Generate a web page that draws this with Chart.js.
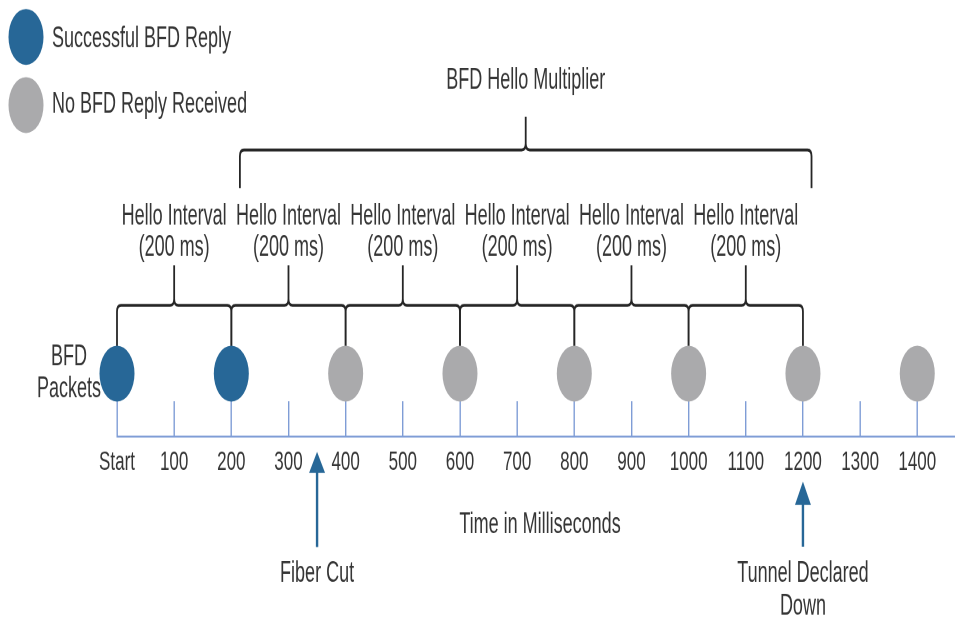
<!DOCTYPE html>
<html>
<head>
<meta charset="utf-8">
<style>
  html, body { margin: 0; padding: 0; background: #ffffff; overflow: hidden; }
</style>
</head>
<body>
<!-- the original figure is stretched vertically: drawn at 955x386, shown at 955x617 -->
<canvas id="bfdChart" width="955" height="386" style="display:block;width:955px;height:617px"></canvas>

<script src="https://cdn.jsdelivr.net/npm/chart.js@4.4.1/dist/chart.umd.min.js"></script>
<script>
// packets on the time line (ms)
const successfulReplies = [0, 200];
const missedReplies = [400, 600, 800, 1000, 1200, 1400];
const seriesNames = ['Successful BFD Reply', 'No BFD Reply Received'];

// axis
const tickValues = [0, 100, 200, 300, 400, 500, 600, 700, 800, 900, 1000, 1100, 1200, 1300, 1400];
const tickLabels = ['Start', '100', '200', '300', '400', '500', '600', '700', '800', '900', '1000', '1100', '1200', '1300', '1400'];
const axisEnd = 1466;
const axisTitle = 'Time in Milliseconds';

// hello intervals and multiplier
const intervalStarts = [0, 200, 400, 600, 800, 1000];
const intervalLength = 200;
const intervalLabel = ['Hello Interval', '(200 ms)'];
const multiplierSpan = [215, 1215];
const multiplierLabel = 'BFD Hello Multiplier';

// events marked with arrows
const eventTimes = [350, 1200];
const eventLabels = [['Fiber Cut'], ['Tunnel Declared', 'Down']];

const blue = '#276797';
const grey = '#aaaaac';
const axisBlue = '#7f9dd6';
const textCol = '#353535';
const font = 'Liberation Sans, Arial, sans-serif';

// y positions in y-scale units (the scale is 1 unit per px)
const lay = {
  packetY: 39.3,
  brace: { end: 56, bar: 82, peak: 107, r: 4 },
  bigBrace: { end: 155.4, bar: 179.2, peak: 200, r: 4 },
  helloY: [137.6, 118],
  multY: 222.4,
  sideX: -84, sideY: [49.7, 29.6],
  titleY: -55.6,
  arrow: [{ tip: -9.6, base: -22.9, tail: -69.2 }, { tip: -28.3, base: -42.9, tail: -69 }],
  eventTextY: [-86, -106.4],
  legendX: -159.2, legendTextX: -113.7,
  legendY: [249.9, 207.3], legendTextY: [248.6, 207.4]
};

function txt(ctx, s, x, y, size, align) {
  ctx.font = size + 'px ' + font;
  ctx.fillStyle = textCol;
  ctx.textAlign = align || 'center';
  ctx.textBaseline = 'middle';
  ctx.fillText(s, x, y);
}

function brace(ctx, xa, xb, yEnd, yBar, yPeak, r) {
  const xm = (xa + xb) / 2;
  ctx.beginPath();
  ctx.moveTo(xa, yEnd);
  ctx.lineTo(xa, yBar + r);
  ctx.quadraticCurveTo(xa, yBar, xa + r, yBar);
  ctx.lineTo(xm - r, yBar);
  ctx.quadraticCurveTo(xm, yBar, xm, yBar - r);
  ctx.lineTo(xm, yPeak);
  ctx.moveTo(xb, yEnd);
  ctx.lineTo(xb, yBar + r);
  ctx.quadraticCurveTo(xb, yBar, xb - r, yBar);
  ctx.lineTo(xm + r, yBar);
  ctx.quadraticCurveTo(xm, yBar, xm, yBar - r);
  ctx.stroke();
}

const diagram = {
  id: 'diagram',
  beforeDatasetsDraw(chart) {
    const ctx = chart.ctx;
    const x = chart.scales.x, y = chart.scales.y;
    ctx.save();
    ctx.strokeStyle = '#262626';
    ctx.lineWidth = 1.8;
    ctx.lineJoin = 'round';
    // one brace per hello interval
    intervalStarts.forEach(s => {
      const b = lay.brace;
      brace(ctx, x.getPixelForValue(s), x.getPixelForValue(s + intervalLength),
        y.getPixelForValue(b.end), y.getPixelForValue(b.bar), y.getPixelForValue(b.peak), b.r);
      const xm = x.getPixelForValue(s + intervalLength / 2);
      txt(ctx, intervalLabel[0], xm, y.getPixelForValue(lay.helloY[0]), 18);
      txt(ctx, intervalLabel[1], xm, y.getPixelForValue(lay.helloY[1]), 18);
    });
    // multiplier brace
    const bb = lay.bigBrace;
    brace(ctx, x.getPixelForValue(multiplierSpan[0]), x.getPixelForValue(multiplierSpan[1]),
      y.getPixelForValue(bb.end), y.getPixelForValue(bb.bar), y.getPixelForValue(bb.peak), bb.r);
    txt(ctx, multiplierLabel, x.getPixelForValue((multiplierSpan[0] + multiplierSpan[1]) / 2), y.getPixelForValue(lay.multY), 18);

    // side label
    txt(ctx, 'BFD', x.getPixelForValue(lay.sideX), y.getPixelForValue(lay.sideY[0]), 18);
    txt(ctx, 'Packets', x.getPixelForValue(lay.sideX), y.getPixelForValue(lay.sideY[1]), 18);

    // axis title
    txt(ctx, axisTitle, x.getPixelForValue(740), y.getPixelForValue(lay.titleY), 18);

    // event arrows
    eventTimes.forEach((t, i) => {
      const a = lay.arrow[i];
      const px = x.getPixelForValue(t);
      ctx.strokeStyle = blue;
      ctx.fillStyle = blue;
      ctx.lineWidth = 2.4;
      ctx.beginPath();
      ctx.moveTo(px, y.getPixelForValue(a.base) - 1);
      ctx.lineTo(px, y.getPixelForValue(a.tail));
      ctx.stroke();
      ctx.beginPath();
      ctx.moveTo(px, y.getPixelForValue(a.tip));
      ctx.lineTo(px - 8, y.getPixelForValue(a.base));
      ctx.lineTo(px + 8, y.getPixelForValue(a.base));
      ctx.closePath();
      ctx.fill();
      eventLabels[i].forEach((s, j) => txt(ctx, s, px, y.getPixelForValue(lay.eventTextY[j]), 18));
    });

    // legend
    chart.data.datasets.forEach((ds, i) => {
      ctx.fillStyle = ds.backgroundColor;
      ctx.beginPath();
      ctx.arc(x.getPixelForValue(lay.legendX), y.getPixelForValue(lay.legendY[i]), 17.5, 0, Math.PI * 2);
      ctx.fill();
      txt(ctx, ds.label, x.getPixelForValue(lay.legendTextX), y.getPixelForValue(lay.legendTextY[i]), 18, 'left');
    });
    ctx.restore();
  }
};

new Chart('bfdChart', {
  type: 'scatter',
  data: {
    datasets: [
      { label: seriesNames[0], data: successfulReplies.map(t => ({ x: t, y: lay.packetY })), backgroundColor: blue },
      { label: seriesNames[1], data: missedReplies.map(t => ({ x: t, y: lay.packetY })), backgroundColor: grey }
    ]
  },
  options: {
    responsive: false,
    devicePixelRatio: 2,
    animation: false,
    events: [],
    clip: false,
    // no extra room for the big points, the axis runs to the right edge
    layout: { autoPadding: false, padding: { top: 251, left: 117, right: 0, bottom: 85 } },
    elements: { point: { radius: 17.5, hoverRadius: 17.5, borderWidth: 0 } },
    plugins: { legend: { display: false }, tooltip: { enabled: false } },
    scales: {
      x: {
        type: 'linear', position: 'bottom', min: 0, max: axisEnd,
        afterBuildTicks: axis => { axis.ticks = tickValues.map(v => ({ value: v })); },
        afterFit: axis => { axis.height = 28; },
        grid: { color: axisBlue, lineWidth: 1.4, drawTicks: false },
        border: { color: axisBlue, width: 1.3 },
        ticks: {
          autoSkip: false, maxRotation: 0, padding: 6, color: textCol,
          font: { family: font, size: 17 },
          callback: v => tickLabels[tickValues.indexOf(v)]
        }
      },
      y: { display: false, min: 0, max: 22 }
    }
  },
  plugins: [diagram]
});
</script>
</body>
</html>
